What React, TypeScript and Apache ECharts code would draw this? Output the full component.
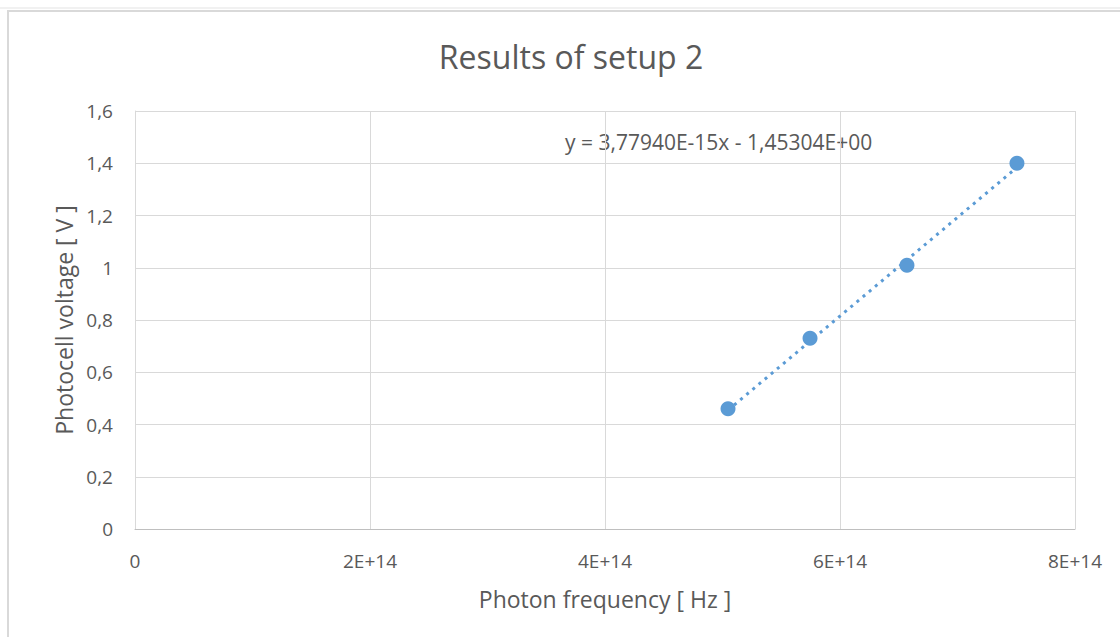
import React, { useEffect, useRef } from "react";
import * as echarts from "echarts";

const frequencies = [5.047e14, 5.745e14, 6.57e14, 7.506e14];
const voltages = [0.46, 0.73, 1.01, 1.4];
const trendX = [5.047e14, 7.506e14];
const trendY = [0.455, 1.384];
const titleText = "Results of setup 2";
const xName = "Photon frequency [ Hz ]";
const yName = "Photocell voltage [ V ]";
const equation = "y = 3,77940E-15x - 1,45304E+00";

const FONT = "'Open Sans', 'Noto Sans', sans-serif";
const TXT = "#595959";
const BLUE = "#5b9bd5";

export default function App() {
  const ref = useRef<HTMLDivElement>(null);
  useEffect(() => {
    const chart = echarts.init(ref.current!, null, { renderer: "svg" });
    chart.setOption({
      animation: false,
      backgroundColor: "#ffffff",
      textStyle: { fontFamily: FONT },
      grid: { left: 135, right: 45, top: 111, bottom: 108 },
      xAxis: {
        type: "value",
        min: 0,
        max: 8e14,
        interval: 2e14,
        name: xName,
        nameLocation: "middle",
        nameGap: 58,
        nameTextStyle: { fontFamily: FONT, fontSize: 23, color: TXT },
        axisLine: { show: true, lineStyle: { color: "#bfbfbf", width: 1 } },
        axisTick: { show: false },
        axisLabel: {
          color: TXT,
          fontSize: 19,
          fontFamily: FONT,
          margin: 22,
          formatter: (v: number) => (v === 0 ? "0" : `${Math.round(v / 1e14)}E+14`),
        },
        splitLine: { show: true, lineStyle: { color: "#d9d9d9", width: 1 } },
      },
      yAxis: {
        type: "value",
        min: 0,
        max: 1.6,
        interval: 0.2,
        name: yName,
        nameLocation: "middle",
        nameGap: 60,
        nameRotate: 90,
        nameTextStyle: { fontFamily: FONT, fontSize: 23, color: TXT },
        axisLine: { show: true, lineStyle: { color: "#d9d9d9", width: 1 } },
        axisTick: { show: false },
        axisLabel: {
          color: TXT,
          fontSize: 19,
          fontFamily: FONT,
          margin: 22,
          formatter: (v: number) => String(Math.round(v * 10) / 10).replace(".", ","),
        },
        splitLine: { show: true, lineStyle: { color: "#d9d9d9", width: 1 } },
      },
      graphic: [
        {
          type: "rect",
          silent: true,
          shape: { x: 8, y: 11, width: 1140, height: 660 },
          style: { fill: "none", stroke: "#d9d9d9", lineWidth: 2 },
        },
        {
          type: "line",
          silent: true,
          shape: { x1: 0, y1: 8, x2: 1120, y2: 8 },
          style: { stroke: "#e3e3e3", lineWidth: 1 },
        },
        {
          type: "text",
          x: 571,
          y: 56,
          style: {
            text: titleText,
            fontFamily: FONT,
            fontSize: 32,
            fill: TXT,
            align: "center",
            verticalAlign: "middle",
          },
        },
        {
          type: "text",
          left: 565,
          top: 131,
          style: { text: equation, fontFamily: FONT, fontSize: 21, fill: TXT },
        },
      ],
      series: [
        {
          type: "line",
          data: trendX.map((x, i) => [x, trendY[i]]),
          showSymbol: false,
          symbol: "none",
          lineStyle: { color: BLUE, width: 3, type: [3, 5] as any },
          z: 1,
        },
        {
          type: "scatter",
          data: frequencies.map((x, i) => [x, voltages[i]]),
          symbolSize: 15,
          itemStyle: { color: BLUE, opacity: 1 },
          z: 2,
        },
      ],
    });
    return () => chart.dispose();
  }, []);
  return (
    <div
      ref={ref}
      style={{ position: "fixed", left: 0, top: 0, width: 1120, height: 637, background: "#fff" }}
    />
  );
}
